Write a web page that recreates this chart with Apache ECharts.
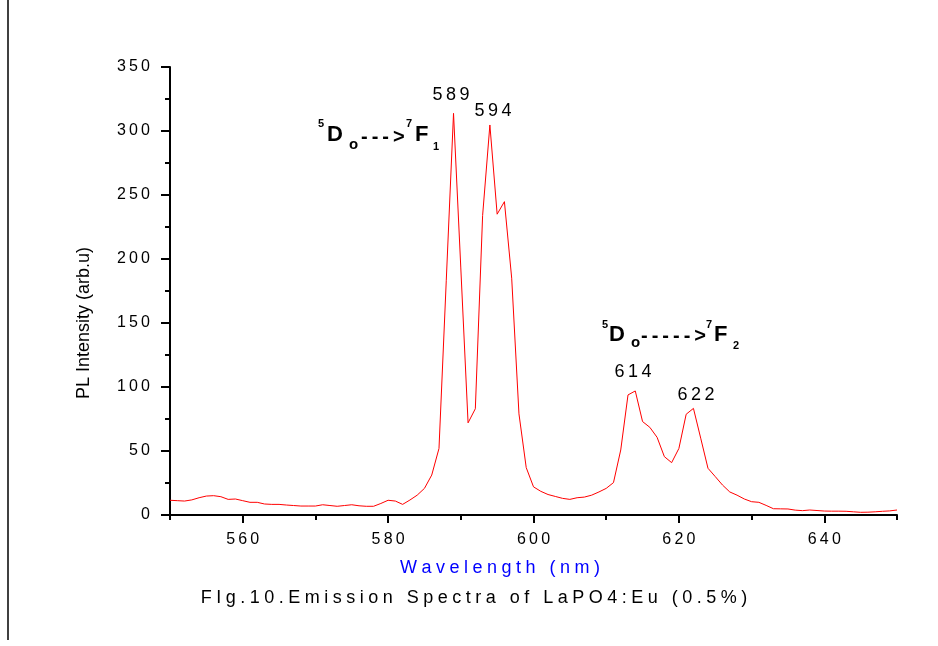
<!DOCTYPE html>
<html>
<head>
<meta charset="utf-8">
<script src="https://cdn.jsdelivr.net/npm/echarts@6/dist/echarts.min.js"></script>
<style>
  html, body { margin: 0; padding: 0; background: #fff; }
  #chart { width: 938px; height: 646px; }
</style>
</head>
<body>
<div id="chart"></div>
<script>
// wavelength (nm), one reading per nm
const wavelength = [
  550, 551, 552, 553, 554, 555, 556, 557, 558, 559,
  560, 561, 562, 563, 564, 565, 566, 567, 568, 569,
  570, 571, 572, 573, 574, 575, 576, 577, 578, 579,
  580, 581, 582, 583, 584, 585, 586, 587, 588, 589,
  590, 591, 592, 593, 594, 595, 596, 597, 598, 599,
  600, 601, 602, 603, 604, 605, 606, 607, 608, 609,
  610, 611, 612, 613, 614, 615, 616, 617, 618, 619,
  620, 621, 622, 623, 624, 625, 626, 627, 628, 629,
  630, 631, 632, 633, 634, 635, 636, 637, 638, 639,
  640, 641, 642, 643, 644, 645, 646, 647, 648, 649,
  650
];
// PL intensity (arb.u)
const intensity = [
  11.5, 11.2, 10.9, 11.8, 13.5, 14.8, 15.1, 14.3, 12.2, 12.5,
  11.2, 9.9, 9.9, 8.6, 8.3, 8.3, 7.8, 7.4, 7.0, 7.0,
  7.0, 8.0, 7.4, 6.8, 7.4, 8.0, 7.2, 6.8, 6.8, 9.0,
  11.5, 10.9, 8.3, 11.7, 15.5, 20.8, 31.2, 52, 183, 313.8,
  193, 72, 83, 234, 304.7, 235, 244.8, 185, 79, 37,
  22, 18.5, 16, 14.5, 13, 12.2, 13.5, 14, 15.5, 18,
  20.8, 25.3, 50.8, 93.8, 96.9, 73, 68.5, 60.7, 45.6, 40.9,
  52, 78.7, 83.3, 60, 36.5, 30, 23.4, 18, 15.5, 12.5,
  10.4, 9.9, 7.5, 4.9, 4.8, 4.7, 3.8, 3.4, 3.9, 3.5,
  3.1, 3.0, 3.0, 2.9, 2.5, 2.1, 2.2, 2.5, 2.9, 3.2,
  3.9
];
const xMajorTicks = [560, 580, 600, 620, 640];
const xMinorTicks = [550, 570, 590, 610, 630, 650];
const peakLabels = ['589', '594', '614', '622'];

const FONT = "'Liberation Sans', Arial, sans-serif";
const spaced = (s, gap) => String(s).split('').join(gap || ' ');

const chart = echarts.init(document.getElementById('chart'), null, { renderer: 'canvas' });

function txt(text, x, y, size, opts) {
  opts = opts || {};
  return {
    type: 'text',
    x: x,
    y: y,
    rotation: opts.rotation || 0,
    style: {
      text: text,
      fontSize: size,
      fontWeight: opts.bold ? 'bold' : 'normal',
      fontFamily: FONT,
      fill: opts.color || '#000',
      align: opts.align || 'left',
      textAlign: opts.align || 'left',
      verticalAlign: 'middle',
      textVerticalAlign: 'middle'
    }
  };
}

const graphics = [
  // page border on the left
  { type: 'line', shape: { x1: 8, y1: 0, x2: 8, y2: 640 }, style: { stroke: '#000', lineWidth: 1.5 } },
  // axis titles and caption
  txt('PL Intensity (arb.u)', 84, 323, 18, { align: 'center', rotation: Math.PI / 2 }),
  txt(spaced('Wavelength (nm)', '\u2005'), 500, 568, 18, { align: 'center', color: '#0000ff' }),
  txt(spaced('FIg.10.Emission Spectra of LaPO4:Eu (0.5%)', '\u2005'), 474, 598, 18, { align: 'center' }),
  // peak labels
  txt(spaced(peakLabels[0], '\u2009'), 451, 95, 18, { align: 'center' }),
  txt(spaced(peakLabels[1], '\u2009'), 493, 111, 18, { align: 'center' }),
  txt(spaced(peakLabels[2], '\u2009'), 633, 372, 18, { align: 'center' }),
  txt(spaced(peakLabels[3], '\u2009'), 696, 395, 18, { align: 'center' }),
  // 5Do ---> 7F1
  txt('5', 318, 124, 11, { bold: true }),
  txt('D', 327, 135, 22, { bold: true }),
  txt('o', 349, 145, 15, { bold: true }),
  txt(spaced('--->', '\u2009'), 361, 137, 20, { bold: true }),
  txt('7', 406, 124, 11, { bold: true }),
  txt('F', 415, 135, 22, { bold: true }),
  txt('1', 433, 147, 11, { bold: true }),
  // 5Do -----> 7F2
  txt('5', 602, 324.5, 11, { bold: true }),
  txt('D', 609, 335, 22, { bold: true }),
  txt('o', 631, 343, 15, { bold: true }),
  txt(spaced('----->', '\u2009'), 641, 336, 20, { bold: true }),
  txt('7', 706, 324.5, 11, { bold: true }),
  txt('F', 714, 335, 22, { bold: true }),
  txt('2', 733, 345.5, 11, { bold: true })
];

const option = {
  animation: false,
  backgroundColor: '#fff',
  grid: { left: 170, right: 41, top: 67, bottom: 131, containLabel: false, outerBoundsMode: 'none' },
  xAxis: [
    {
      type: 'value',
      min: 550,
      max: 650,
      interval: 10,
      splitLine: { show: false },
      axisLine: { onZero: false, lineStyle: { color: '#000', width: 2 } },
      axisTick: { show: true, length: 8, customValues: xMajorTicks, lineStyle: { color: '#000', width: 2 } },
      axisLabel: {
        customValues: xMajorTicks,
        margin: 17,
        fontSize: 16,
        fontFamily: FONT,
        color: '#000',
        formatter: v => spaced(v, '\u2009')
      }
    },
    {
      type: 'value',
      min: 550,
      max: 650,
      interval: 10,
      position: 'bottom',
      splitLine: { show: false },
      axisLine: { show: false },
      axisTick: { show: true, length: 5, customValues: xMinorTicks, lineStyle: { color: '#000', width: 2 } },
      axisLabel: { show: false }
    }
  ],
  yAxis: {
    type: 'value',
    min: 0,
    max: 350,
    interval: 50,
    splitLine: { show: false },
    axisLine: { show: true, onZero: false, lineStyle: { color: '#000', width: 2 } },
    axisTick: { show: true, length: 9, lineStyle: { color: '#000', width: 2 } },
    minorTick: { show: true, splitNumber: 2, length: 5, lineStyle: { color: '#000', width: 2 } },
    minorSplitLine: { show: false },
    axisLabel: {
      margin: 20,
      fontSize: 16,
      fontFamily: FONT,
      color: '#000',
      formatter: v => spaced(v, '\u2009')
    }
  },
  series: [
    {
      type: 'line',
      xAxisIndex: 0,
      data: wavelength.map((w, i) => [w, intensity[i]]),
      showSymbol: false,
      symbol: 'none',
      lineStyle: { color: '#ff0000', width: 1 },
      silent: true
    }
  ],
  graphic: graphics
};

chart.setOption(option);
</script>
</body>
</html>
